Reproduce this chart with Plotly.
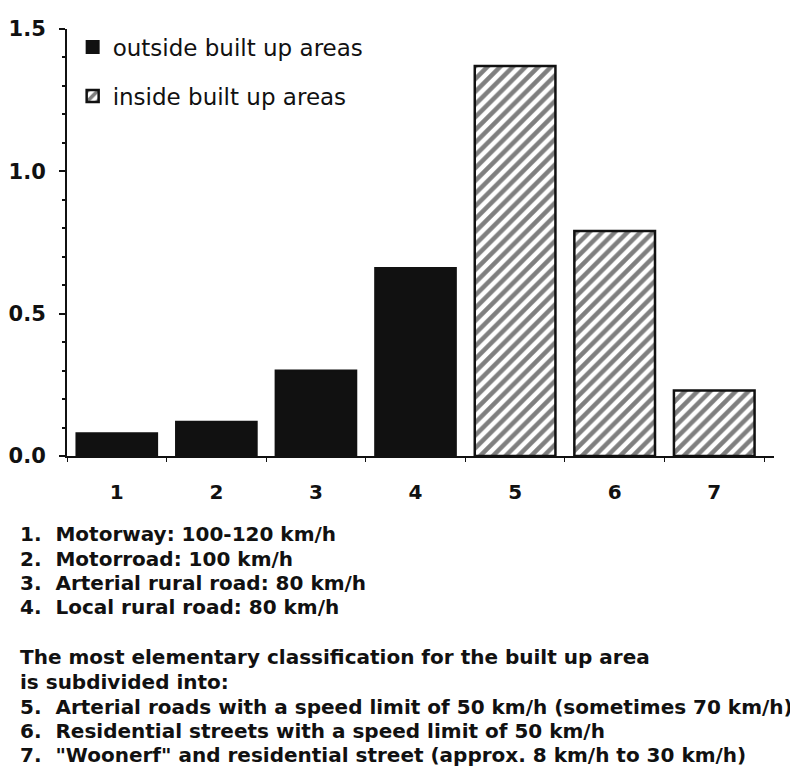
import plotly.graph_objects as go

categories = ["1", "2", "3", "4", "5", "6", "7"]
outside_cats = ["1", "2", "3", "4"]
outside_vals = [0.08, 0.12, 0.30, 0.66]
inside_cats = ["5", "6", "7"]
inside_vals = [1.37, 0.79, 0.23]
y_ticks = [0.0, 0.5, 1.0, 1.5]
y_ticklabels = ["0.0", "0.5", "1.0", "1.5"]

notes = [
    "1.  Motorway: 100-120 km/h",
    "2.  Motorroad: 100 km/h",
    "3.  Arterial rural road: 80 km/h",
    "4.  Local rural road: 80 km/h",
    "The most elementary classification for the built up area",
    "is subdivided into:",
    "5.  Arterial roads with a speed limit of 50 km/h (sometimes 70 km/h)",
    "6.  Residential streets with a speed limit of 50 km/h",
    "7.  \"Woonerf\" and residential street (approx. 8 km/h to 30 km/h)",
]
note_rows = [526, 551, 575, 599, 649, 674, 699, 723, 747]

FONT = "DejaVu Sans, sans-serif"
INK = "#111111"

fig = go.Figure()
fig.add_trace(go.Bar(
    x=outside_cats, y=outside_vals, name="outside built up areas",
    marker=dict(color=INK, line=dict(color=INK, width=2)),
    legendgroup="a",
))
fig.add_trace(go.Bar(
    x=inside_cats, y=inside_vals, name="inside built up areas",
    marker=dict(color="white", line=dict(color=INK, width=2.5),
                pattern=dict(shape="/", fgcolor="#000000", bgcolor="white",
                             size=9, solidity=0.5)),
    legendgroup="b",
))

# page has an 8px body margin; figure coordinates are page - 8
W, H = 790, 766
L, R, T, B = 59, 24, 21, 318
pw = W - L - R
ph = H - T - B

fig.update_layout(
    width=W, height=H,
    margin=dict(l=L, r=R, t=T, b=B, autoexpand=False),
    paper_bgcolor="white", plot_bgcolor="white",
    bargap=0.19,
    showlegend=True,
    legend=dict(x=0.008, y=1.008, xanchor="left", yanchor="top",
                font=dict(family=FONT, size=23, color=INK),
                tracegroupgap=16, bgcolor="rgba(0,0,0,0)"),
    font=dict(family=FONT, color=INK),
)
fig.update_xaxes(
    type="category", categoryorder="array", categoryarray=categories,
    range=[-0.5, 6.6], automargin=False,
    showline=True, linecolor=INK, linewidth=2,
    ticks="outside", tickson="boundaries", ticklen=4, tickcolor=INK,
    ticklabelstandoff=17,
    tickfont=dict(family=FONT, size=20, color=INK),
    tickvals=categories, ticktext=[f"<b>{c}</b>" for c in categories],
    showgrid=False, zeroline=False,
)
fig.update_yaxes(
    range=[0, 1.5], automargin=False,
    tickvals=y_ticks, ticktext=[f"<b>{t}</b>" for t in y_ticklabels],
    showline=True, linecolor=INK, linewidth=2,
    ticks="outside", ticklen=6, tickcolor=INK, tickwidth=2,
    minor=dict(ticks="outside", dtick=0.1, ticklen=3, tickcolor=INK),
    ticklabelstandoff=9,
    tickfont=dict(family=FONT, size=21, color=INK),
    showgrid=False, zeroline=False,
)

for txt, py in zip(notes, note_rows):
    fig.add_annotation(
        xref="paper", yref="paper",
        x=(11 - L) / pw, y=(H - B - py) / ph,
        xanchor="left", yanchor="middle", align="left", showarrow=False,
        borderpad=0,
        text=f"<b>{txt}</b>",
        font=dict(family=FONT, size=20, color=INK),
    )

fig.write_html("out.html")
